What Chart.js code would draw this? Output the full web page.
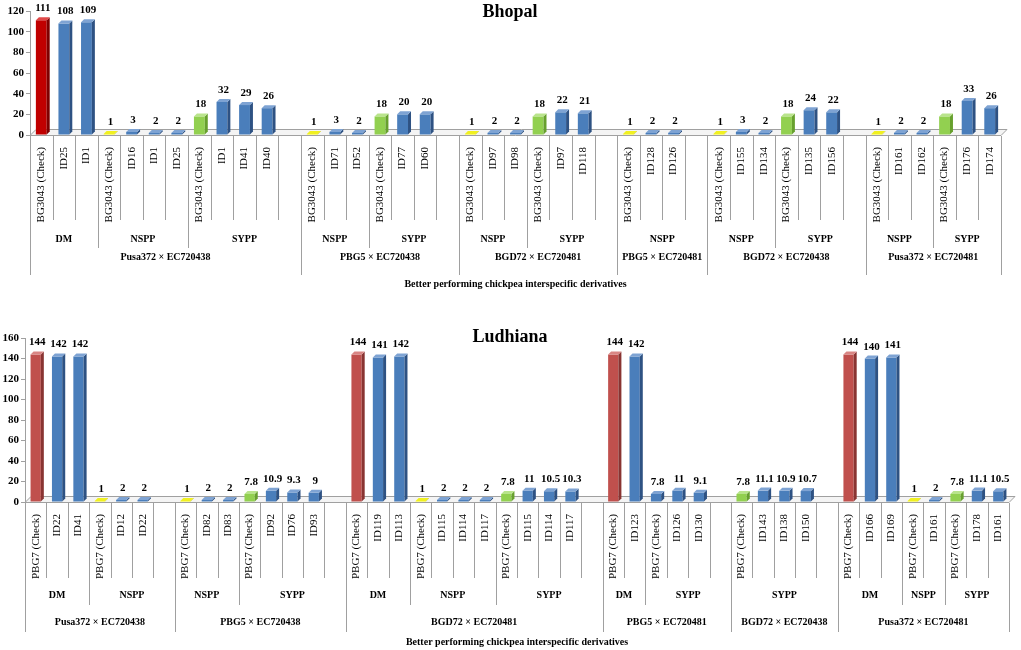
<!DOCTYPE html>
<html>
<head>
<meta charset="utf-8">
<script src="https://cdn.jsdelivr.net/npm/chart.js@4.4.1/dist/chart.umd.min.js"></script>
<style>
  body { margin: 0; background: #fff; }
  canvas { display: block; }
</style>
</head>
<body>
<canvas id="bhopal" width="1021" height="305"></canvas>
<canvas id="ludhiana" width="1021" height="345"></canvas>
<script>
// Bhopal data ('' = empty slot between crosses)
const bhopalLabels = [
  'BG3043 (Check)', 'ID25', 'ID1',
  'BG3043 (Check)', 'ID16', 'ID1', 'ID25',
  'BG3043 (Check)', 'ID1', 'ID41', 'ID40', '',
  'BG3043 (Check)', 'ID71', 'ID52',
  'BG3043 (Check)', 'ID77', 'ID60', '',
  'BG3043 (Check)', 'ID97', 'ID98',
  'BG3043 (Check)', 'ID97', 'ID118', '',
  'BG3043 (Check)', 'ID128', 'ID126', '',
  'BG3043 (Check)', 'ID155', 'ID134',
  'BG3043 (Check)', 'ID135', 'ID156', '',
  'BG3043 (Check)', 'ID161', 'ID162',
  'BG3043 (Check)', 'ID176', 'ID174'
];
const bhopalValues = [
  111, 108, 109,
  1, 3, 2, 2,
  18, 32, 29, 26, null,
  1, 3, 2,
  18, 20, 20, null,
  1, 2, 2,
  18, 22, 21, null,
  1, 2, 2, null,
  1, 3, 2,
  18, 24, 22, null,
  1, 2, 2,
  18, 33, 26
];
const bhopalSubgroups = ['DM', 'NSPP', 'SYPP', 'NSPP', 'SYPP', 'NSPP', 'SYPP', 'NSPP', 'NSPP', 'SYPP', 'NSPP', 'SYPP'];
const bhopalSubgroupSizes = [3, 4, 5, 3, 4, 3, 4, 4, 3, 4, 3, 3];
const bhopalCrosses = ['Pusa372 × EC720438', 'PBG5 × EC720438', 'BGD72 × EC720481', 'PBG5 × EC720481', 'BGD72 × EC720438', 'Pusa372 × EC720481'];
const bhopalCrossSizes = [12, 7, 7, 4, 7, 6];
const bhopalTicks = [0, 20, 40, 60, 80, 100, 120];

// Ludhiana data
const ludhianaLabels = [
  'PBG7 (Check)', 'ID22', 'ID41',
  'PBG7 (Check)', 'ID12', 'ID22', '',
  'PBG7 (Check)', 'ID82', 'ID83',
  'PBG7 (Check)', 'ID92', 'ID76', 'ID93', '',
  'PBG7 (Check)', 'ID119', 'ID113',
  'PBG7 (Check)', 'ID115', 'ID114', 'ID117',
  'PBG7 (Check)', 'ID115', 'ID114', 'ID117', '',
  'PBG7 (Check)', 'ID123',
  'PBG7 (Check)', 'ID126', 'ID130', '',
  'PBG7 (Check)', 'ID143', 'ID138', 'ID150', '',
  'PBG7 (Check)', 'ID166', 'ID169',
  'PBG7 (Check)', 'ID161',
  'PBG7 (Check)', 'ID178', 'ID161'
];
const ludhianaValues = [
  144, 142, 142,
  1, 2, 2, null,
  1, 2, 2,
  7.8, 10.9, 9.3, 9, null,
  144, 141, 142,
  1, 2, 2, 2,
  7.8, 11, 10.5, 10.3, null,
  144, 142,
  7.8, 11, 9.1, null,
  7.8, 11.1, 10.9, 10.7, null,
  144, 140, 141,
  1, 2,
  7.8, 11.1, 10.5
];
const ludhianaSubgroups = ['DM', 'NSPP', 'NSPP', 'SYPP', 'DM', 'NSPP', 'SYPP', 'DM', 'SYPP', 'SYPP', 'DM', 'NSPP', 'SYPP'];
const ludhianaSubgroupSizes = [3, 4, 3, 5, 3, 4, 5, 2, 4, 5, 3, 2, 3];
const ludhianaCrosses = ['Pusa372 × EC720438', 'PBG5 × EC720438', 'BGD72 × EC720481', 'PBG5 × EC720481', 'BGD72 × EC720438', 'Pusa372 × EC720481'];
const ludhianaCrossSizes = [7, 8, 12, 6, 5, 8];
const ludhianaTicks = [0, 20, 40, 60, 80, 100, 120, 140, 160];
// check drawn in plain blue in the original
const ludhianaPlainChecks = [29];

const SERIF = "'Liberation Serif', 'Times New Roman', serif";
const DX = 3, DY = 3;

const BLUE = { front: '#4a7ebb', side: '#2e5283', top: '#7ea3d3' };
const GREEN = { front: '#92d050', side: '#67a02e', top: '#b9e48c' };
const YELLOW = { front: '#ffff00', side: '#b8b800', top: '#f0f020' };

function expand(names, sizes) {
  const out = [];
  names.forEach((n, k) => { for (let j = 0; j < sizes[k]; j++) out.push(n); });
  return out;
}

function faceColours(labels, subgroups, sizes, red, plain = []) {
  const sub = expand(subgroups, sizes);
  return labels.map((lab, i) => {
    if (!lab.includes('(Check)') || plain.includes(i)) return BLUE;
    if (sub[i] === 'DM') return red;
    if (sub[i] === 'NSPP') return YELLOW;
    return GREEN;
  });
}

const layers = {
  id: 'layers',
  beforeDatasetsDraw(chart) {
    const { ctx, chartArea: a } = chart;
    ctx.save();
    ctx.strokeStyle = '#a0a0a0';
    ctx.fillStyle = '#f4f4f4';
    ctx.lineWidth = 1;
    ctx.beginPath();
    ctx.moveTo(a.left, a.bottom + 0.5);
    ctx.lineTo(a.right, a.bottom + 0.5);
    ctx.lineTo(a.right + 2 * DX, a.bottom - 2 * DY + 0.5);
    ctx.lineTo(a.left + 2 * DX, a.bottom - 2 * DY + 0.5);
    ctx.closePath();
    ctx.fill();
    ctx.stroke();
    ctx.restore();
  },
  afterDatasetsDraw(chart, args, o) {
    const ctx = chart.ctx;
    const meta = chart.getDatasetMeta(0);
    const values = chart.data.datasets[0].data;
    ctx.save();
    meta.data.forEach((bar, i) => {
      const v = values[i];
      if (v == null) return;
      const { x, y, base, width } = bar.getProps(['x', 'y', 'base', 'width'], true);
      const l = x - width / 2, r = x + width / 2;
      const c = o.faces[i];
      ctx.fillStyle = c.side;
      ctx.beginPath();
      ctx.moveTo(r, y); ctx.lineTo(r + DX, y - DY); ctx.lineTo(r + DX, base - DY); ctx.lineTo(r, base);
      ctx.closePath(); ctx.fill();
      ctx.fillStyle = c.top;
      ctx.beginPath();
      ctx.moveTo(l, y); ctx.lineTo(l + DX, y - DY); ctx.lineTo(r + DX, y - DY); ctx.lineTo(r, y);
      ctx.closePath(); ctx.fill();
      ctx.fillStyle = '#000';
      ctx.font = 'bold 11px ' + SERIF;
      ctx.textAlign = 'center';
      ctx.textBaseline = 'alphabetic';
      ctx.fillText(String(v), x + DX / 2, y - DY - 6);
    });
    ctx.restore();
  },
  afterDraw(chart, args, o) {
    const { ctx, chartArea: a } = chart;
    const n = chart.data.labels.length;
    const slot = i => a.left + (a.right - a.left) * i / n;
    const cum = sizes => { let s = 0; return sizes.map(z => (s += z)); };
    const subEdges = [0, ...cum(o.subSizes)];
    const crossEdges = [0, ...cum(o.crossSizes)];
    ctx.save();
    ctx.strokeStyle = '#a0a0a0';
    ctx.lineWidth = 1;
    for (let i = 0; i <= n; i++) {
      let end = o.catEnd;
      if (crossEdges.includes(i)) end = o.crossEnd;
      else if (subEdges.includes(i)) end = o.subEnd;
      const px = Math.round(slot(i)) + 0.5;
      ctx.beginPath();
      ctx.moveTo(px, a.bottom + 1);
      ctx.lineTo(px, end);
      ctx.stroke();
    }
    ctx.fillStyle = '#000';
    ctx.textAlign = 'center';
    ctx.textBaseline = 'middle';
    ctx.font = 'bold 10px ' + SERIF;
    o.subNames.forEach((name, k) => {
      ctx.fillText(name, (slot(subEdges[k]) + slot(subEdges[k + 1])) / 2, o.subY);
    });
    o.crossNames.forEach((name, k) => {
      ctx.fillText(name, (slot(crossEdges[k]) + slot(crossEdges[k + 1])) / 2, o.crossY);
    });
    ctx.fillText('Better performing chickpea interspecific derivatives', (a.left + a.right) / 2, o.axisTitleY);
    ctx.font = 'bold 18px ' + SERIF;
    ctx.fillText(o.title, 510, o.titleY);
    ctx.restore();
  }
};

function makeChart(id, cfg) {
  return new Chart(document.getElementById(id), {
    type: 'bar',
    data: {
      labels: cfg.labels,
      datasets: [{
        data: cfg.values,
        backgroundColor: cfg.faces.map(f => f.front),
        borderWidth: 0,
        categoryPercentage: 1,
        barPercentage: 0.48
      }]
    },
    options: {
      responsive: false,
      animation: false,
      devicePixelRatio: 1,
      layout: { padding: { top: cfg.padTop, right: cfg.padRight, left: 0, bottom: 0 } },
      scales: {
        x: {
          afterFit: s => { s.height = cfg.xHeight; },
          grid: { display: false },
          border: { display: false },
          ticks: {
            autoSkip: false, maxRotation: 90, minRotation: 90, padding: 4,
            color: '#000', font: { family: SERIF, size: 11 }
          }
        },
        y: {
          min: 0,
          max: cfg.ticks[cfg.ticks.length - 1],
          afterFit: s => { s.width = cfg.yWidth; },
          afterBuildTicks: s => { s.ticks = cfg.ticks.map(v => ({ value: v })); },
          grid: { drawOnChartArea: false, tickLength: 4, color: '#a0a0a0' },
          border: { display: true, color: '#a0a0a0' },
          ticks: { padding: 2, color: '#000', font: { family: SERIF, size: 11, weight: 'bold' } }
        }
      },
      plugins: {
        legend: { display: false },
        tooltip: { enabled: false },
        layers: cfg.layers
      }
    },
    plugins: [layers]
  });
}

const bhopalFaces = faceColours(bhopalLabels, bhopalSubgroups, bhopalSubgroupSizes,
  { front: '#c00000', side: '#7f0000', top: '#e04848' });
makeChart('bhopal', {
  labels: bhopalLabels, values: bhopalValues, faces: bhopalFaces, ticks: bhopalTicks,
  padTop: 11, padRight: 20, xHeight: 170, yWidth: 30,
  layers: {
    faces: bhopalFaces, title: 'Bhopal', titleY: 12,
    subNames: bhopalSubgroups, subSizes: bhopalSubgroupSizes,
    crossNames: bhopalCrosses, crossSizes: bhopalCrossSizes,
    catEnd: 220, subEnd: 248, crossEnd: 275, subY: 239, crossY: 257, axisTitleY: 284
  }
});

const ludhianaFaces = faceColours(ludhianaLabels, ludhianaSubgroups, ludhianaSubgroupSizes,
  { front: '#c0504d', side: '#893432', top: '#d98583' }, ludhianaPlainChecks);
makeChart('ludhiana', {
  labels: ludhianaLabels, values: ludhianaValues, faces: ludhianaFaces, ticks: ludhianaTicks,
  padTop: 33, padRight: 12, xHeight: 148, yWidth: 25,
  layers: {
    faces: ludhianaFaces, title: 'Ludhiana', titleY: 32,
    subNames: ludhianaSubgroups, subSizes: ludhianaSubgroupSizes,
    crossNames: ludhianaCrosses, crossSizes: ludhianaCrossSizes,
    catEnd: 273, subEnd: 300, crossEnd: 327, subY: 290, crossY: 317, axisTitleY: 337
  }
});
</script>
</body>
</html>
